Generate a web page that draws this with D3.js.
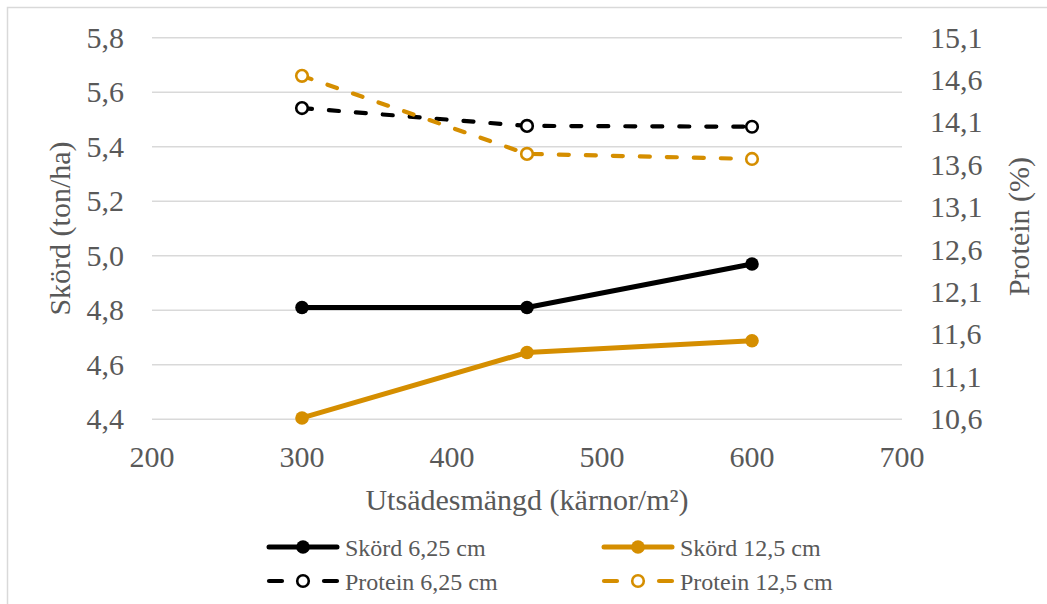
<!DOCTYPE html>
<html>
<head>
<meta charset="utf-8">
<script src="https://cdn.jsdelivr.net/npm/d3@7"></script>
</head>
<body style="margin:0">
<svg id="chart" width="1047" height="604" style="display:block"></svg>
<script>
// ---- data ----
const xValues = [300, 450, 600];
const skord625 = [4.81, 4.81, 4.97];
const skord125 = [4.405, 4.645, 4.688];
const protein625 = [14.27, 14.06, 14.05];
const protein125 = [14.65, 13.73, 13.67];
const xTicks = [200, 300, 400, 500, 600, 700];
const leftTicks = [4.4, 4.6, 4.8, 5.0, 5.2, 5.4, 5.6, 5.8];
const rightTicks = [10.6, 11.1, 11.6, 12.1, 12.6, 13.1, 13.6, 14.1, 14.6, 15.1];
const seriesNames = ["Skörd 6,25 cm", "Skörd 12,5 cm", "Protein 6,25 cm", "Protein 12,5 cm"];
const xTitle = "Utsädesmängd (kärnor/m²)";
const yLeftTitle = "Skörd (ton/ha)";
const yRightTitle = "Protein (%)";

const BLACK = "#000000";
const ORANGE = "#D58E00";
const GRID = "#D9D9D9";
const TEXT = "#595959";
const FONT = "Liberation Serif";

const svg = d3.select("#chart");
const plot = { left: 152, right: 902, top: 37.7, bottom: 419.3 };

const x = d3.scaleLinear().domain([200, 700]).range([plot.left, plot.right]);
const yL = d3.scaleLinear().domain([4.4, 5.8]).range([plot.bottom, plot.top]);
const yR = d3.scaleLinear().domain([10.6, 15.1]).range([plot.bottom, plot.top]);

const fmt = v => d3.format(".1f")(v).replace(".", ",");

// chart border
svg.append("rect")
  .attr("x", 7.5).attr("y", 7.5).attr("width", 1050).attr("height", 610)
  .attr("fill", "none").attr("stroke", GRID).attr("stroke-width", 1.5);

// gridlines (left axis)
svg.append("g").selectAll("line").data(leftTicks).join("line")
  .attr("x1", plot.left).attr("x2", plot.right)
  .attr("y1", d => yL(d)).attr("y2", d => yL(d))
  .attr("stroke", GRID).attr("stroke-width", 1.5);

// tick labels drawn from scales
svg.append("g").selectAll("text").data(leftTicks).join("text")
  .attr("x", 124).attr("y", d => yL(d)).attr("dy", "0.33em")
  .attr("text-anchor", "end").attr("font-family", FONT).attr("font-size", 30).attr("fill", TEXT)
  .text(fmt);
svg.append("g").selectAll("text").data(rightTicks).join("text")
  .attr("x", 930).attr("y", d => yR(d)).attr("dy", "0.33em")
  .attr("text-anchor", "start").attr("font-family", FONT).attr("font-size", 30).attr("fill", TEXT)
  .text(fmt);
svg.append("g").selectAll("text").data(xTicks).join("text")
  .attr("x", d => x(d)).attr("y", 467)
  .attr("text-anchor", "middle").attr("font-family", FONT).attr("font-size", 30).attr("fill", TEXT)
  .text(d => d);

// axis titles
svg.append("text").attr("x", (plot.left + plot.right) / 2).attr("y", 510)
  .attr("text-anchor", "middle").attr("font-family", FONT).attr("font-size", 30).attr("fill", TEXT)
  .text(xTitle);
svg.append("text").attr("transform", `translate(70,${(plot.top + plot.bottom) / 2}) rotate(-90)`)
  .attr("text-anchor", "middle").attr("font-family", FONT).attr("font-size", 30).attr("fill", TEXT)
  .text(yLeftTitle);
svg.append("text").attr("transform", `translate(1029,${(plot.top + plot.bottom) / 2 - 2}) rotate(-90)`)
  .attr("text-anchor", "middle").attr("font-family", FONT).attr("font-size", 30).attr("fill", TEXT)
  .text(yRightTitle);

// series
const series = [
  { name: seriesNames[2], vals: protein625, y: yR, color: BLACK, dashed: true },
  { name: seriesNames[3], vals: protein125, y: yR, color: ORANGE, dashed: true },
  { name: seriesNames[0], vals: skord625, y: yL, color: BLACK, dashed: false },
  { name: seriesNames[1], vals: skord125, y: yL, color: ORANGE, dashed: false },
];

series.forEach(s => {
  const pts = xValues.map((xv, i) => [x(xv), s.y(s.vals[i])]);
  svg.append("path").attr("d", d3.line()(pts))
    .attr("fill", "none").attr("stroke", s.color)
    .attr("stroke-width", s.dashed ? 4.2 : 5)
    .attr("stroke-linecap", "round").attr("stroke-linejoin", "round")
    .attr("stroke-dasharray", s.dashed ? "10 17" : null);
  svg.append("g").selectAll("circle").data(pts).join("circle")
    .attr("cx", d => d[0]).attr("cy", d => d[1])
    .attr("r", s.dashed ? 5.8 : 6.8)
    .attr("fill", s.dashed ? "#fff" : s.color)
    .attr("stroke", s.dashed ? s.color : "none")
    .attr("stroke-width", s.dashed ? 2.6 : 0);
});

// legend
const legendItems = [
  { name: seriesNames[0], color: BLACK, dashed: false, x0: 267, y0: 547 },
  { name: seriesNames[1], color: ORANGE, dashed: false, x0: 602, y0: 547 },
  { name: seriesNames[2], color: BLACK, dashed: true, x0: 267, y0: 581 },
  { name: seriesNames[3], color: ORANGE, dashed: true, x0: 602, y0: 581 },
];
legendItems.forEach(it => {
  const g = svg.append("g").attr("transform", `translate(${it.x0},${it.y0})`);
  if (it.dashed) {
    g.append("line").attr("x1", 2).attr("x2", 15).attr("y1", 0).attr("y2", 0)
      .attr("stroke", it.color).attr("stroke-width", 4.2).attr("stroke-linecap", "round");
    g.append("line").attr("x1", 57).attr("x2", 70).attr("y1", 0).attr("y2", 0)
      .attr("stroke", it.color).attr("stroke-width", 4.2).attr("stroke-linecap", "round");
    g.append("circle").attr("cx", 36).attr("cy", 0).attr("r", 5.8)
      .attr("fill", "#fff").attr("stroke", it.color).attr("stroke-width", 2.6);
  } else {
    g.append("line").attr("x1", 2).attr("x2", 70).attr("y1", 0).attr("y2", 0)
      .attr("stroke", it.color).attr("stroke-width", 5).attr("stroke-linecap", "round");
    g.append("circle").attr("cx", 36).attr("cy", 0).attr("r", 6.8).attr("fill", it.color);
  }
  g.append("text").attr("x", 78).attr("y", 8.5).attr("font-size", 24)
    .attr("font-family", FONT).attr("fill", TEXT).text(it.name);
});
</script>
</body>
</html>
